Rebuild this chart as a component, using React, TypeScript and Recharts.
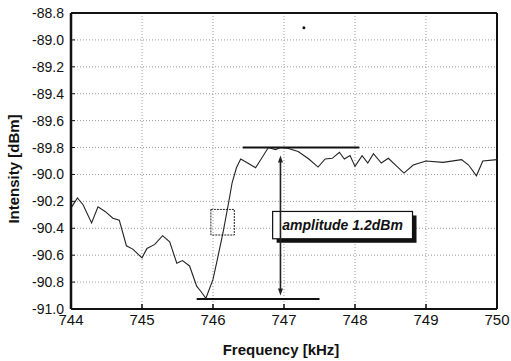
import React from 'react';
import {
  LineChart, Line, XAxis, YAxis, CartesianGrid, ReferenceLine, ReferenceArea, ReferenceDot,
} from 'recharts';

const freq = [
  744.0, 744.09, 744.17, 744.29, 744.38, 744.48, 744.59, 744.68, 744.78, 744.87,
  745.0, 745.07, 745.18, 745.29, 745.39, 745.49, 745.57, 745.67, 745.77, 745.83,
  745.9, 746.0, 746.06, 746.14, 746.22, 746.27, 746.33, 746.39, 746.47, 746.6,
  746.78, 746.88, 746.95, 747.05, 747.2, 747.35, 747.48, 747.58, 747.68, 747.78,
  747.85, 747.93, 748.0, 748.1, 748.18, 748.26, 748.37, 748.47, 748.59, 748.69,
  748.82, 749.0, 749.24, 749.5, 749.6, 749.71, 749.8, 750.0,
];
const intensity = [
  -90.25, -90.175, -90.225, -90.36, -90.24, -90.275, -90.325, -90.34, -90.53, -90.555,
  -90.62, -90.55, -90.52, -90.455, -90.5, -90.66, -90.64, -90.68, -90.83, -90.87,
  -90.92, -90.78, -90.635, -90.435, -90.21, -90.06, -89.95, -89.885, -89.91, -89.95,
  -89.8, -89.815, -89.8, -89.805, -89.83, -89.885, -89.945, -89.885, -89.88, -89.835,
  -89.885, -89.86, -89.94, -89.86, -89.915, -89.846, -89.915, -89.88, -89.94, -89.99,
  -89.93, -89.9, -89.91, -89.89, -89.93, -90.01, -89.9, -89.89,
];
const xTicks = [744, 745, 746, 747, 748, 749, 750];
const yTicks = [-91.0, -90.8, -90.6, -90.4, -90.2, -90.0, -89.8, -89.6, -89.4, -89.2, -89.0, -88.8];

const topLevel = -89.8;
const bottomLevel = -90.925;
const topLineX = [746.42, 748.06];
const bottomLineX = [745.77, 747.5];
const arrowX = 746.95;
const arrowY = [-89.86, -90.9];
const zoomBoxX = [745.97, 746.3];
const zoomBoxY = [-90.45, -90.26];
const labelBoxX = [746.84, 748.81];
const labelBoxY = [-90.478, -90.275];
const labelText = 'amplitude 1.2dBm';
const strayDot = { x: 747.28, y: -88.91 };

const data = freq.map((f, i) => ({ f, v: intensity[i] }));

const FONT = '"Liberation Sans", Arial, sans-serif';

const ArrowShape = (props: any) => {
  const { x1, y1, x2, y2 } = props;
  const top = Math.min(y1, y2);
  const bot = Math.max(y1, y2);
  const x = x1;
  return (
    <g>
      <line x1={x} y1={top + 4} x2={x} y2={bot - 4} stroke="#222" strokeWidth={1.6} />
      <polygon points={`${x},${top} ${x - 2.5},${top + 7} ${x + 2.5},${top + 7}`} fill="#222" />
      <polygon points={`${x},${bot} ${x - 2.5},${bot - 7} ${x + 2.5},${bot - 7}`} fill="#222" />
    </g>
  );
};

const LabelBox = (props: any) => {
  const { x, y, width, height } = props;
  return (
    <g>
      <rect x={x + 4} y={y + 4} width={width} height={height} fill="#111" />
      <rect x={x} y={y} width={width} height={height} fill="#fff" stroke="#111" strokeWidth={1.2} />
      <text
        x={x + width / 2}
        y={y + height / 2 + 5}
        textAnchor="middle"
        fontFamily={FONT}
        fontWeight="bold"
        fontStyle="italic"
        fontSize={14}
        fill="#111"
      >
        {labelText}
      </text>
    </g>
  );
};

export default function App() {
  return (
    <div style={{ position: 'absolute', left: 0, top: 0, background: '#fff' }}>
      <LineChart
        width={511}
        height={361}
        data={data}
        margin={{ top: 13, right: 14, bottom: 22, left: 11 }}
      >
        <CartesianGrid stroke="#9a9a9a" strokeDasharray="1 2" />
        <XAxis
          dataKey="f"
          type="number"
          domain={[744, 750]}
          ticks={xTicks}
          interval={0}
          height={30}
          axisLine={{ stroke: '#111', strokeWidth: 2.2 }}
          tickLine={{ stroke: '#111', strokeWidth: 1.5 }}
          tickSize={-5}
          tickMargin={10}
          tick={{ fill: '#111', fontSize: 15, fontFamily: FONT }}
          label={{
            content: (p: any) => {
              const vb = p.viewBox;
              return (
                <text
                  x={vb.x + vb.width / 2 - 3}
                  y={vb.y + 46}
                  textAnchor="middle"
                  fontFamily={FONT}
                  fontWeight="bold"
                  fontSize={15}
                  fill="#111"
                >
                  Frequency [kHz]
                </text>
              );
            },
          }}
        />
        <YAxis
          dataKey="v"
          type="number"
          domain={[-91, -88.8]}
          ticks={yTicks}
          interval={0}
          width={60}
          axisLine={{ stroke: '#111', strokeWidth: 2.5 }}
          tickLine={{ stroke: '#111', strokeWidth: 1 }}
          tickSize={-4}
          tickMargin={11}
          tickFormatter={(v: number) => v.toFixed(1)}
          tick={{ fill: '#111', fontSize: 14, fontFamily: FONT }}
          label={{
            content: (p: any) => {
              const vb = p.viewBox;
              const cx = 13;
              const cy = vb.y + vb.height / 2 + 8;
              return (
                <text
                  x={cx}
                  y={cy}
                  transform={`rotate(-90, ${cx}, ${cy})`}
                  textAnchor="middle"
                  dominantBaseline="central"
                  fontFamily={FONT}
                  fontWeight="bold"
                  fontSize={15}
                  fill="#111"
                >
                  Intensity [dBm]
                </text>
              );
            },
          }}
        />
        <ReferenceLine y={-88.8} stroke="#111" strokeWidth={2} />
        <ReferenceLine x={750} stroke="#111" strokeWidth={2} />
        <ReferenceArea
          x1={zoomBoxX[0]}
          x2={zoomBoxX[1]}
          y1={zoomBoxY[0]}
          y2={zoomBoxY[1]}
          fill="none"
          fillOpacity={0}
          stroke="#222"
          strokeWidth={1}
          strokeDasharray="2 1"
        />
        <Line
          dataKey="v"
          type="linear"
          stroke="#222"
          strokeWidth={1.1}
          dot={false}
          isAnimationActive={false}
        />
        <ReferenceLine
          segment={[{ x: topLineX[0], y: topLevel }, { x: topLineX[1], y: topLevel }]}
          stroke="#111"
          strokeWidth={2}
        />
        <ReferenceLine
          segment={[{ x: bottomLineX[0], y: bottomLevel }, { x: bottomLineX[1], y: bottomLevel }]}
          stroke="#111"
          strokeWidth={2}
        />
        <ReferenceLine
          segment={[{ x: arrowX, y: arrowY[0] }, { x: arrowX, y: arrowY[1] }]}
          shape={ArrowShape}
        />
        <ReferenceArea
          x1={labelBoxX[0]}
          x2={labelBoxX[1]}
          y1={labelBoxY[0]}
          y2={labelBoxY[1]}
          shape={LabelBox}
        />
        <ReferenceDot x={strayDot.x} y={strayDot.y} r={1.5} fill="#111" stroke="none" />
      </LineChart>
    </div>
  );
}
